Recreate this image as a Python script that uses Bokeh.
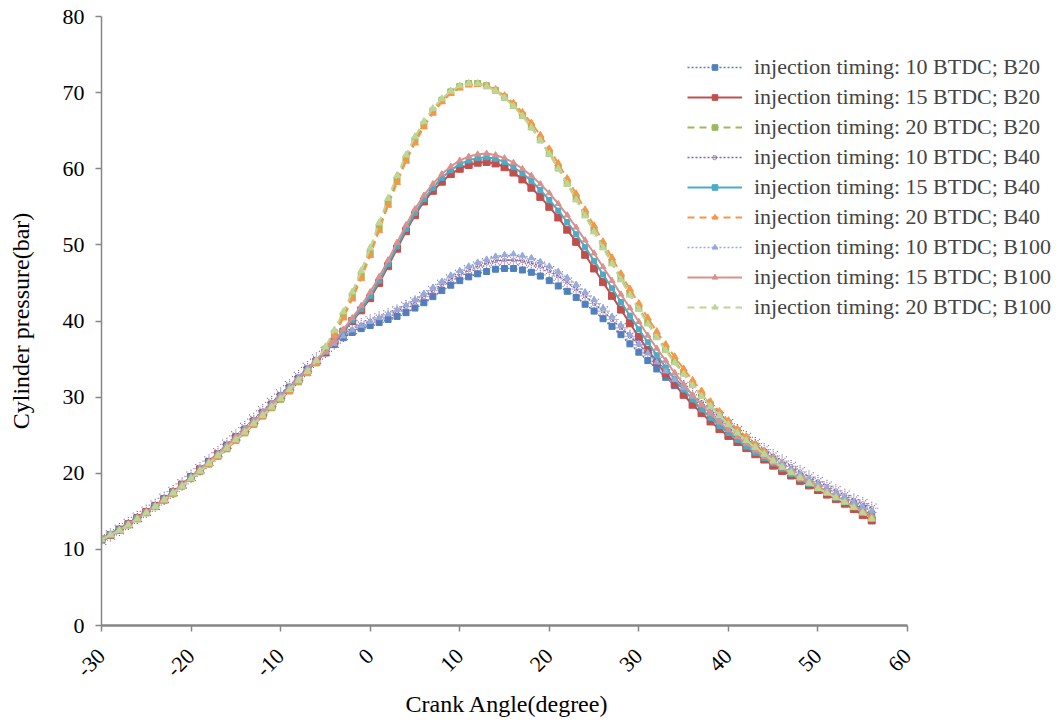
import math
from bokeh.plotting import figure
from bokeh.models import Legend, LegendItem, Range1d, FixedTicker, Title
from bokeh.embed import file_html
from bokeh.resources import INLINE

# Crank angle (degree), one sample per degree
crank_angle = list(range(-30, 57))

# Cylinder pressure (bar)
p_10btdc_b20 = [11.3, 11.9, 12.6, 13.3, 14.1, 14.9, 15.7, 16.6, 17.5, 18.5, 19.5, 20.5, 21.5, 22.5, 23.7, 24.8, 25.8, 26.9, 28.0, 29.1, 30.2, 31.3, 32.5, 33.7, 34.8,
                35.8, 36.9, 37.8, 38.5, 39.0, 39.4, 39.8, 40.2, 40.6, 41.1, 41.7, 42.4, 43.2, 44.0, 44.7, 45.3, 45.8, 46.2, 46.5, 46.8, 46.9, 46.9, 46.7, 46.4, 45.9, 45.3,
                44.6, 43.9, 43.1, 42.2, 41.3, 40.3, 39.3, 38.2, 37.0, 35.9, 34.8, 33.7, 32.6, 31.5, 30.4, 29.4, 28.4, 27.4, 26.5, 25.6, 24.7, 23.9, 23.1, 22.3, 21.5,
                20.8, 20.1, 19.4, 18.8, 18.2, 17.6, 17.0, 16.4, 15.9, 15.4, 14.6]
p_15btdc_b20 = [11.3, 11.9, 12.6, 13.3, 14.1, 14.9, 15.7, 16.6, 17.5, 18.5, 19.5, 20.5, 21.5, 22.5, 23.5, 24.6, 25.6, 26.7, 27.8, 28.9, 30.0, 31.1, 32.3, 33.5, 34.7,
                35.9, 37.2, 38.6, 40.0, 41.4, 43.0, 45.0, 47.2, 49.5, 51.8, 53.9, 55.7, 57.1, 58.3, 59.3, 60.0, 60.5, 60.8, 60.9, 60.7, 60.2, 59.5, 58.6, 57.5, 56.3, 55.0,
                53.6, 52.0, 50.4, 48.7, 46.9, 45.1, 43.3, 41.5, 39.7, 37.9, 36.2, 34.6, 33.1, 31.7, 30.3, 29.0, 27.9, 26.8, 25.8, 24.9, 24.1, 23.3, 22.5, 21.8, 21.0,
                20.3, 19.7, 19.0, 18.4, 17.8, 17.2, 16.6, 16.0, 15.3, 14.5, 13.8]
p_20btdc_b20 = [11.3, 11.9, 12.5, 13.2, 14.0, 14.8, 15.6, 16.4, 17.3, 18.3, 19.3, 20.2, 21.2, 22.2, 23.2, 24.3, 25.3, 26.4, 27.5, 28.6, 29.7, 30.8, 32.0, 33.2, 34.5,
                36.3, 38.4, 40.7, 43.2, 45.9, 48.9, 52.2, 55.5, 58.5, 61.3, 63.7, 65.8, 67.6, 69.0, 70.1, 70.8, 71.2, 71.2, 70.9, 70.3, 69.4, 68.3, 67.0, 65.5, 63.8, 62.0,
                60.1, 58.1, 56.1, 54.0, 51.9, 49.8, 47.7, 45.6, 43.6, 41.7, 39.8, 38.0, 36.3, 34.7, 33.2, 31.7, 30.3, 29.0, 27.8, 26.6, 25.5, 24.5, 23.6, 22.7, 21.8,
                21.0, 20.2, 19.5, 18.8, 18.1, 17.5, 16.9, 16.3, 15.6, 14.9, 14.1]
p_10btdc_b40 = [11.2, 11.9, 12.6, 13.4, 14.2, 15.0, 15.8, 16.7, 17.6, 18.6, 19.6, 20.6, 21.6, 22.7, 23.8, 24.9, 26.0, 27.1, 28.2, 29.3, 30.4, 31.5, 32.7, 33.9, 35.0,
                36.0, 37.1, 38.1, 38.9, 39.5, 40.0, 40.4, 40.8, 41.3, 41.9, 42.5, 43.2, 44.0, 44.8, 45.5, 46.1, 46.7, 47.2, 47.6, 47.9, 48.0, 48.0, 47.9, 47.6, 47.2, 46.6,
                45.9, 45.1, 44.2, 43.3, 42.3, 41.3, 40.2, 39.1, 38.0, 36.9, 35.8, 34.7, 33.6, 32.5, 31.4, 30.3, 29.3, 28.3, 27.4, 26.5, 25.6, 24.7, 23.9, 23.1, 22.3,
                21.6, 20.9, 20.2, 19.5, 18.9, 18.3, 17.7, 17.1, 16.5, 16.0, 15.4]
p_15btdc_b40 = [11.3, 11.9, 12.6, 13.3, 14.1, 14.9, 15.7, 16.6, 17.5, 18.5, 19.5, 20.5, 21.5, 22.5, 23.5, 24.6, 25.6, 26.7, 27.8, 28.9, 30.0, 31.1, 32.3, 33.5, 34.8,
                36.0, 37.3, 38.7, 40.1, 41.6, 43.3, 45.3, 47.5, 49.8, 52.1, 54.2, 56.0, 57.5, 58.8, 59.8, 60.6, 61.1, 61.4, 61.5, 61.3, 60.9, 60.2, 59.4, 58.4, 57.2, 55.9,
                54.5, 53.0, 51.4, 49.7, 47.9, 46.1, 44.3, 42.5, 40.7, 38.9, 37.2, 35.5, 33.9, 32.4, 31.0, 29.7, 28.4, 27.3, 26.2, 25.3, 24.4, 23.5, 22.7, 22.0, 21.3,
                20.6, 19.9, 19.2, 18.6, 18.0, 17.4, 16.8, 16.2, 15.6, 15.0, 14.2]
p_20btdc_b40 = [11.3, 11.9, 12.5, 13.2, 14.0, 14.8, 15.6, 16.4, 17.3, 18.3, 19.3, 20.2, 21.2, 22.2, 23.2, 24.3, 25.3, 26.4, 27.5, 28.6, 29.7, 30.8, 32.0, 33.1, 34.4,
                36.1, 38.1, 40.4, 42.9, 45.6, 48.6, 51.9, 55.2, 58.2, 61.0, 63.4, 65.5, 67.3, 68.8, 69.9, 70.6, 71.0, 71.1, 70.9, 70.4, 69.6, 68.6, 67.4, 66.0, 64.4, 62.6,
                60.7, 58.7, 56.7, 54.6, 52.5, 50.4, 48.3, 46.2, 44.2, 42.3, 40.4, 38.6, 36.9, 35.3, 33.7, 32.2, 30.8, 29.4, 28.1, 26.9, 25.8, 24.8, 23.8, 22.9, 22.0,
                21.2, 20.4, 19.7, 19.0, 18.3, 17.6, 17.0, 16.4, 15.7, 15.0, 14.3]
p_10btdc_b100 = [11.3, 11.9, 12.6, 13.3, 14.1, 14.9, 15.7, 16.6, 17.5, 18.5, 19.5, 20.5, 21.5, 22.6, 23.7, 24.8, 25.9, 27.0, 28.1, 29.2, 30.3, 31.4, 32.6, 33.8, 34.9,
                 35.9, 37.0, 38.0, 38.8, 39.4, 39.9, 40.4, 40.9, 41.5, 42.1, 42.8, 43.6, 44.4, 45.2, 46.0, 46.6, 47.2, 47.7, 48.1, 48.5, 48.7, 48.8, 48.6, 48.3, 47.8, 47.2,
                 46.5, 45.7, 44.8, 43.8, 42.8, 41.7, 40.6, 39.4, 38.2, 37.0, 35.8, 34.6, 33.4, 32.3, 31.2, 30.1, 29.0, 28.0, 27.0, 26.1, 25.2, 24.3, 23.5, 22.7, 21.9,
                 21.2, 20.5, 19.8, 19.2, 18.6, 18.0, 17.4, 16.8, 16.2, 15.6, 15.0]
p_15btdc_b100 = [11.3, 11.9, 12.6, 13.3, 14.1, 14.9, 15.7, 16.6, 17.5, 18.5, 19.5, 20.5, 21.5, 22.5, 23.6, 24.7, 25.7, 26.8, 27.9, 29.0, 30.1, 31.2, 32.4, 33.6, 34.9,
                 36.1, 37.4, 38.9, 40.4, 42.0, 43.8, 45.8, 48.0, 50.3, 52.6, 54.7, 56.5, 58.0, 59.3, 60.3, 61.1, 61.6, 61.9, 62.0, 61.8, 61.4, 60.8, 60.0, 59.1, 58.0, 56.8,
                 55.4, 53.9, 52.3, 50.6, 48.9, 47.1, 45.3, 43.5, 41.7, 39.9, 38.1, 36.4, 34.8, 33.2, 31.7, 30.3, 29.0, 27.8, 26.7, 25.7, 24.8, 23.9, 23.0, 22.2, 21.4,
                 20.7, 20.0, 19.3, 18.7, 18.1, 17.5, 16.9, 16.3, 15.6, 14.9, 14.1]
p_20btdc_b100 = [11.3, 11.9, 12.5, 13.2, 14.0, 14.8, 15.6, 16.5, 17.4, 18.3, 19.3, 20.3, 21.3, 22.3, 23.3, 24.4, 25.4, 26.5, 27.6, 28.7, 29.8, 31.0, 32.2, 33.4, 34.8,
                 36.6, 38.8, 41.2, 43.8, 46.6, 49.6, 52.9, 56.1, 59.1, 61.8, 64.2, 66.2, 67.9, 69.2, 70.2, 70.9, 71.2, 71.2, 70.8, 70.2, 69.3, 68.2, 66.9, 65.4, 63.7, 61.9,
                 60.0, 58.0, 55.9, 53.8, 51.7, 49.6, 47.5, 45.4, 43.4, 41.5, 39.6, 37.8, 36.1, 34.5, 33.0, 31.5, 30.1, 28.8, 27.6, 26.4, 25.3, 24.3, 23.4, 22.5, 21.6,
                 20.8, 20.1, 19.4, 18.7, 18.0, 17.4, 16.8, 16.2, 15.5, 14.8, 14.0]

series_labels = [
    "injection timing: 10 BTDC; B20",
    "injection timing: 15 BTDC; B20",
    "injection timing: 20 BTDC; B20",
    "injection timing: 10 BTDC; B40",
    "injection timing: 15 BTDC; B40",
    "injection timing: 20 BTDC; B40",
    "injection timing: 10 BTDC; B100",
    "injection timing: 15 BTDC; B100",
    "injection timing: 20 BTDC; B100",
]
series_values = [p_10btdc_b20, p_15btdc_b20, p_20btdc_b20,
                 p_10btdc_b40, p_15btdc_b40, p_20btdc_b40,
                 p_10btdc_b100, p_15btdc_b100, p_20btdc_b100]

x_ticks = [-30, -20, -10, 0, 10, 20, 30, 40, 50, 60]
x_tick_labels = ["-30", "-20", "-10", "0", "10", "20", "30", "40", "50", "60"]
y_ticks = [0, 10, 20, 30, 40, 50, 60, 70, 80]

# style: (color, dash, line width, marker, marker size)
styles = [
    ("#4F81BD", "2 2", 1.3, "square", 6),
    ("#C0504D", "solid", 2.0, "square", 7),
    ("#9BBB59", "7 5", 2.0, "square", 6),
    ("#8064A2", "2 2", 1.3, "asterisk", 13),
    ("#4BACC6", "solid", 2.0, "square", 5),
    ("#F79646", "7 5", 2.0, "triangle", 7),
    ("#95ABDA", "2 2", 1.3, "triangle", 6),
    ("#D9918E", "solid", 2.0, "triangle", 6),
    ("#BFD597", "7 5", 2.0, "triangle", 7),
]

FONT = "Liberation Serif"

# frame spans x 101..1060 px; the axis itself only covers -30..60
p = figure(width=1060, height=720, output_backend="svg", toolbar_location=None,
           x_range=Range1d(-30, 77.08), y_range=Range1d(0, 80),
           min_border_left=101, min_border_right=0, min_border_top=16, min_border_bottom=95)
p.outline_line_color = None
p.xgrid.grid_line_color = None
p.ygrid.grid_line_color = None
p.background_fill_color = "white"
p.border_fill_color = "white"

items = []
for label, vals, (col, dash, lw, mk, ms) in zip(series_labels, series_values, styles):
    xs = crank_angle[:len(vals)]
    r_line = p.line(xs, vals, line_color=col, line_width=lw, line_dash=dash)
    if mk == "asterisk":
        r_mk = p.scatter(xs, vals, marker=mk, size=ms, line_color=col, line_width=1.2, line_dash="1 1")
    else:
        r_mk = p.scatter(xs, vals, marker=mk, size=ms, fill_color=col, line_color=col)
    items.append(LegendItem(label=label, renderers=[r_line, r_mk]))

for ax in (p.xaxis[0], p.yaxis[0]):
    ax.axis_line_color = "#868686"
    ax.major_tick_line_color = "#868686"
    ax.major_tick_line_width = 1.5
    ax.major_tick_out = 6
    ax.major_tick_in = 0
    ax.minor_tick_line_color = None
    ax.major_label_text_font = FONT
    ax.major_label_text_font_size = "22px"
    ax.major_label_text_color = "black"
    ax.axis_label_text_font = FONT
    ax.axis_label_text_font_size = "24px"
    ax.axis_label_text_font_style = "normal"
    ax.axis_label_text_color = "black"

p.xaxis[0].bounds = (-30, 60)
p.xaxis[0].axis_line_width = 2.5
p.yaxis[0].axis_line_width = 1.5
p.xaxis[0].ticker = FixedTicker(ticks=x_ticks)
p.yaxis[0].ticker = FixedTicker(ticks=y_ticks)
p.xaxis[0].major_label_overrides = {t: s for t, s in zip(x_ticks, x_tick_labels)}
p.xaxis[0].major_label_orientation = math.pi / 4
p.xaxis[0].major_label_text_align = "center"
p.xaxis[0].major_label_text_baseline = "middle"
p.xaxis[0].major_label_standoff = 21
p.yaxis[0].major_label_standoff = 11
p.yaxis[0].axis_label = "Cylinder pressure(bar)"
p.yaxis[0].axis_label_standoff = 26

# x-axis title placed under the -30..60 span of the axis
x_title = Title(text="Crank Angle(degree)", align="left", offset=304, standoff=4,
                text_font=FONT, text_font_size="24px", text_font_style="normal",
                text_color="black")
p.add_layout(x_title, "below")

legend = Legend(items=items, location=(576, 295),
                label_text_font=FONT, label_text_font_size="22px",
                glyph_width=55, glyph_height=14, label_height=25,
                label_standoff=12, spacing=4, padding=10,
                border_line_alpha=0, background_fill_alpha=0)
p.add_layout(legend)

open("out.html", "w").write(file_html(p, INLINE))
